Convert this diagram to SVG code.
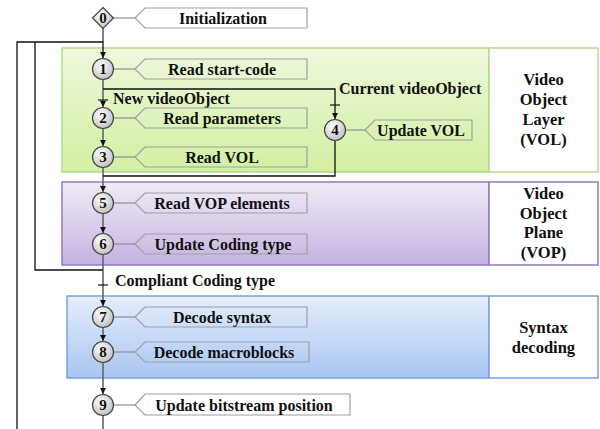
<svg xmlns="http://www.w3.org/2000/svg" width="600" height="429" viewBox="0 0 600 429">
<defs>
<linearGradient id="gGreen" x1="0" y1="0" x2="0" y2="1"><stop offset="0" stop-color="#eef8dc"/><stop offset="1" stop-color="#d2f0a2"/></linearGradient>
<linearGradient id="gPurple" x1="0" y1="0" x2="0" y2="1"><stop offset="0" stop-color="#f1ebf7"/><stop offset="1" stop-color="#c4b2e0"/></linearGradient>
<linearGradient id="gBlue" x1="0" y1="0" x2="0" y2="1"><stop offset="0" stop-color="#e4eefc"/><stop offset="1" stop-color="#a9c5f2"/></linearGradient>
<radialGradient id="gNode" cx="0.4" cy="0.35" r="0.7"><stop offset="0" stop-color="#ffffff"/><stop offset="1" stop-color="#bdbdbd"/></radialGradient>
<marker id="arr" viewBox="0 0 6 6" refX="6" refY="3" markerWidth="6" markerHeight="6" markerUnits="userSpaceOnUse" orient="auto"><path d="M0,0 L6,3 L0,6 z" fill="#111"/></marker>
</defs>
<style>
text{font-family:"Liberation Serif","Times New Roman",serif;font-weight:bold;fill:#111;}
.lbl{font-size:16px;text-anchor:middle;}
.num{font-size:15px;text-anchor:middle;}
.side{font-size:16.5px;text-anchor:middle;}
.cond{font-size:16px;}
.tag{fill:none;stroke:#a0a0a0;stroke-width:1.2;}
.link{stroke:#909090;stroke-width:1.2;fill:none;}
.node{fill:url(#gNode);stroke:#444;stroke-width:1.2;}
.main{stroke:#666;stroke-width:1.6;fill:none;}
.fb{stroke:#111;stroke-width:1.3;fill:none;}
.tick{stroke:#111;stroke-width:1.2;}
</style>
<g id="panels">
<rect x="62" y="48" width="427" height="124" fill="url(#gGreen)" stroke="#b6d98c" stroke-width="1.5"/>
<rect x="489" y="48" width="109" height="124" fill="#fff" stroke="#b6d98c" stroke-width="1.5"/>
<rect x="62" y="182" width="427" height="83" fill="url(#gPurple)" stroke="#9479bf" stroke-width="1.5"/>
<rect x="489" y="182" width="109" height="83" fill="#fff" stroke="#9479bf" stroke-width="1.5"/>
<rect x="67" y="296" width="422" height="82" fill="url(#gBlue)" stroke="#7aa2dc" stroke-width="1.5"/>
<rect x="489" y="296" width="109" height="82" fill="#fff" stroke="#7aa2dc" stroke-width="1.5"/>
</g>
<g id="side-labels">
<text class="side" x="543.5" y="85">Video</text>
<text class="side" x="543.5" y="105">Object</text>
<text class="side" x="543.5" y="125">Layer</text>
<text class="side" x="543.5" y="145">(VOL)</text>
<text class="side" x="543.5" y="199">Video</text>
<text class="side" x="543.5" y="219">Object</text>
<text class="side" x="543.5" y="238">Plane</text>
<text class="side" x="543.5" y="258">(VOP)</text>
<text class="side" x="543.5" y="333">Syntax</text>
<text class="side" x="543.5" y="353">decoding</text>
</g>
<g id="connectors">
<path class="main" d="M103,28 V42"/>
<path class="fb" d="M17,429 V42 H103 V58" marker-end="url(#arr)"/>
<path class="main" d="M103,79 V107" marker-end="url(#arr)"/>
<path class="main" d="M103,128 V146" marker-end="url(#arr)"/>
<path class="main" d="M103,167 V192" marker-end="url(#arr)"/>
<path class="main" d="M103,213 V233" marker-end="url(#arr)"/>
<path class="main" d="M103,254 V306" marker-end="url(#arr)"/>
<path class="main" d="M103,327 V341" marker-end="url(#arr)"/>
<path class="main" d="M103,362 V394" marker-end="url(#arr)"/>
<path class="main" d="M103,415 V429"/>
<path class="fb" d="M103,89 H335 V119" marker-end="url(#arr)"/>
<path class="fb" d="M335,140 V176 H103"/>
<path class="fb" d="M103,270 H35 V42"/>
<line class="tick" x1="98" y1="100" x2="108" y2="100"/>
<line class="tick" x1="330" y1="105" x2="340" y2="105"/>
<line class="tick" x1="98" y1="285" x2="108" y2="285"/>
<text class="cond" x="113" y="104">New videoObject</text>
<text class="cond" x="339" y="94">Current videoObject</text>
<text class="cond" x="115" y="286">Compliant Coding type</text>
</g>
<g id="n0">
<line class="link" x1="113" y1="18" x2="135" y2="18"/>
<polygon class="tag" points="135,18 145,8 307,8 307,28 145,28"/>
<polygon class="node" points="103,7.5 113.5,18 103,28.5 92.5,18"/>
<text class="num" x="103" y="23">0</text>
<text class="lbl" x="223" y="23.5">Initialization</text>
</g>
<g id="n1">
<line class="link" x1="113" y1="69" x2="135" y2="69"/>
<polygon class="tag" points="135,69 145,59 307,59 307,79 145,79"/>
<circle class="node" cx="103" cy="69" r="10.5"/>
<text class="num" x="103" y="74">1</text>
<text class="lbl" x="222" y="74.5">Read start-code</text>
</g>
<g id="n2">
<line class="link" x1="113" y1="118" x2="135" y2="118"/>
<polygon class="tag" points="135,118 145,108 307,108 307,128 145,128"/>
<circle class="node" cx="103" cy="118" r="10.5"/>
<text class="num" x="103" y="123">2</text>
<text class="lbl" x="222" y="123.5">Read parameters</text>
</g>
<g id="n3">
<line class="link" x1="113" y1="157" x2="135" y2="157"/>
<polygon class="tag" points="135,157 145,147 307,147 307,167 145,167"/>
<circle class="node" cx="103" cy="157" r="10.5"/>
<text class="num" x="103" y="162">3</text>
<text class="lbl" x="222" y="162.5">Read VOL</text>
</g>
<g id="n4">
<line class="link" x1="345" y1="130" x2="365" y2="130"/>
<polygon class="tag" points="365,130 375,120 472,120 472,140 375,140"/>
<circle class="node" cx="335" cy="130" r="10.5"/>
<text class="num" x="335" y="135">4</text>
<text class="lbl" x="421" y="135.5">Update VOL</text>
</g>
<g id="n5">
<line class="link" x1="113" y1="203" x2="135" y2="203"/>
<polygon class="tag" points="135,203 145,193 307,193 307,213 145,213"/>
<circle class="node" cx="103" cy="203" r="10.5"/>
<text class="num" x="103" y="208">5</text>
<text class="lbl" x="222" y="208.5">Read VOP elements</text>
</g>
<g id="n6">
<line class="link" x1="113" y1="244" x2="135" y2="244"/>
<polygon class="tag" points="135,244 145,234 307,234 307,254 145,254"/>
<circle class="node" cx="103" cy="244" r="10.5"/>
<text class="num" x="103" y="249">6</text>
<text class="lbl" x="223" y="249.5">Update Coding type</text>
</g>
<g id="n7">
<line class="link" x1="113" y1="317" x2="135" y2="317"/>
<polygon class="tag" points="135,317 145,307 307,307 307,327 145,327"/>
<circle class="node" cx="103" cy="317" r="10.5"/>
<text class="num" x="103" y="322">7</text>
<text class="lbl" x="222" y="322.5">Decode syntax</text>
</g>
<g id="n8">
<line class="link" x1="113" y1="352" x2="135" y2="352"/>
<polygon class="tag" points="135,352 145,342 309,342 309,362 145,362"/>
<circle class="node" cx="103" cy="352" r="10.5"/>
<text class="num" x="103" y="357">8</text>
<text class="lbl" x="224" y="357.5">Decode macroblocks</text>
</g>
<g id="n9">
<line class="link" x1="113" y1="405" x2="135" y2="405"/>
<polygon class="tag" points="135,405 145,394 350,394 350,415 145,415"/>
<circle class="node" cx="103" cy="405" r="10.5"/>
<text class="num" x="103" y="410">9</text>
<text class="lbl" x="244" y="410.5">Update bitstream position</text>
</g>
</svg>
